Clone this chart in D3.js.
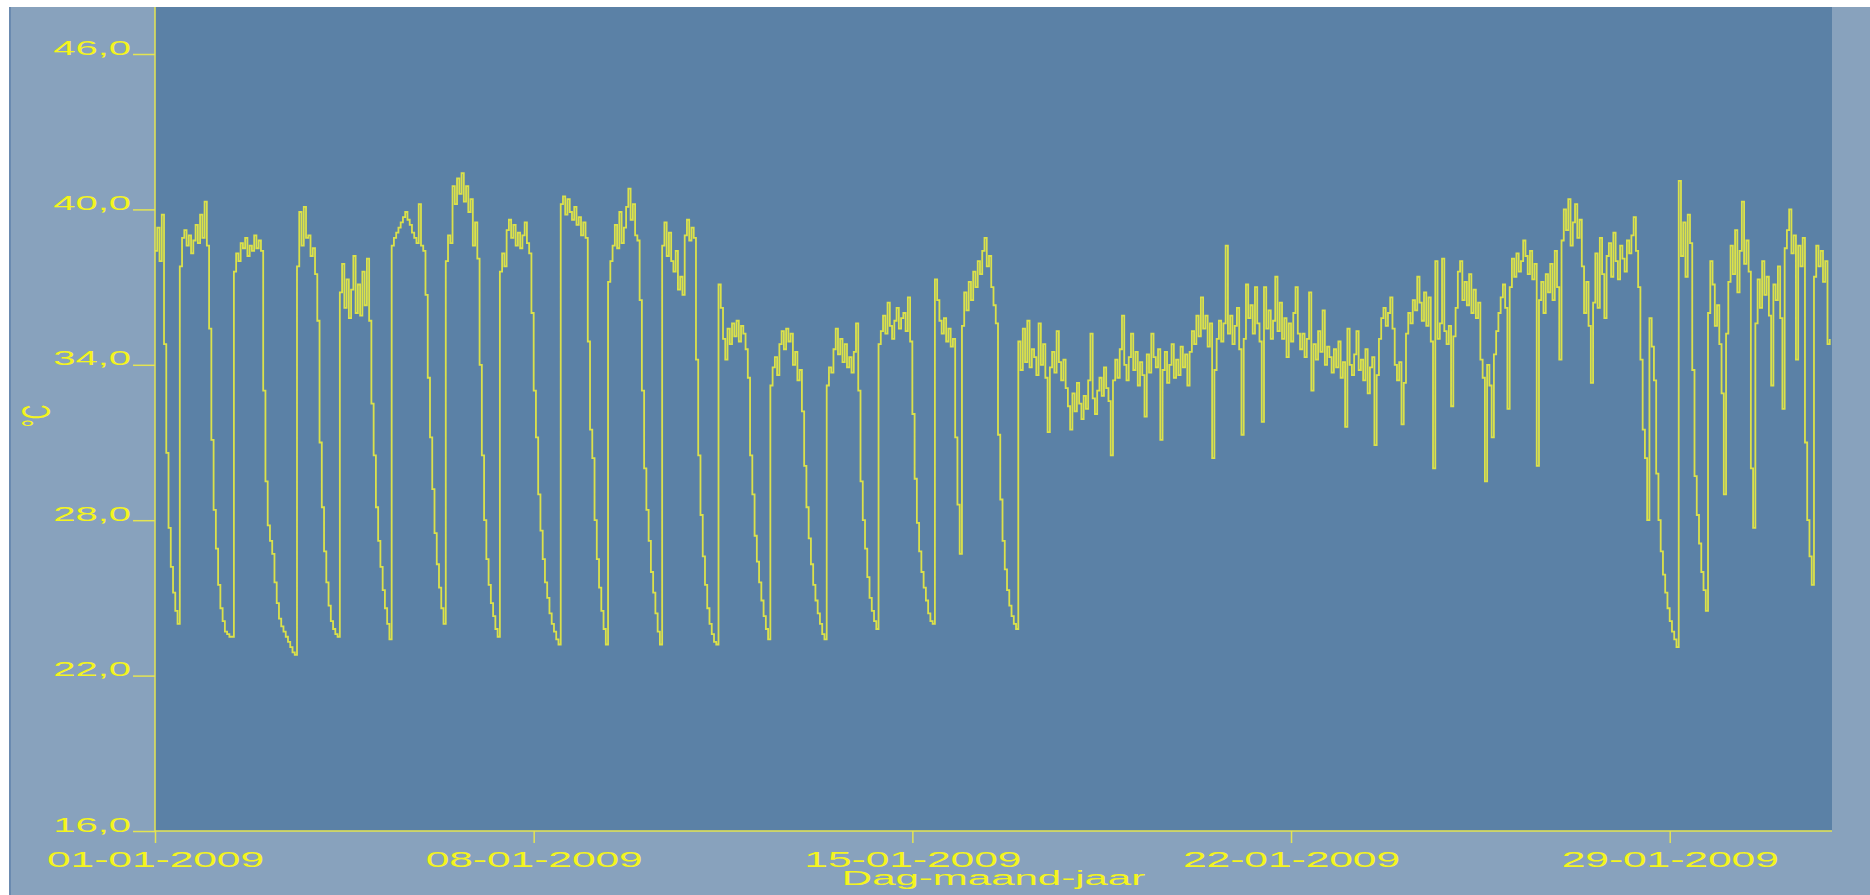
<!DOCTYPE html>
<html lang="nl">
<head>
<meta charset="UTF-8">
<title>Temperatuur januari 2009</title>
<script src="https://d3js.org/d3.v7.min.js"></script>
<style>
    body { margin: 0; padding: 0; background: #fff; overflow: hidden; }
    svg { display: block; }
    text { font-family: "Liberation Sans", Arial, sans-serif; }
</style>
</head>
<body>
<svg id="chart" width="1870" height="895"></svg>
<script>
// hourly readings, first value = 01-01-2009 00:00
const startDate = new Date(2009, 0, 1, 0, 0);
const endDate = new Date(2009, 1, 1, 0, 0);

const jan01_07 = [
    38.4, 39.3, 38.0, 39.8, 34.8, 30.6, 27.7, 26.2, 25.2, 24.5, 24.0,
    37.8, 38.9, 39.2, 38.6, 39.0, 38.3, 38.8, 39.4, 38.7, 39.8, 38.9, 40.3, 38.6,
    35.4, 31.1, 28.4, 26.9, 25.5, 24.6, 24.1, 23.7, 23.6, 23.5, 23.5,
    37.6, 38.3, 38.0, 38.7, 38.5, 38.9, 38.2, 38.6, 38.4, 39.0, 38.5, 38.8, 38.4,
    33.0, 29.5, 27.8, 27.2, 26.7, 25.6, 24.8, 24.2, 23.9, 23.7, 23.5, 23.3, 23.1, 22.9, 22.8,
    37.8, 39.9, 38.6, 40.1, 38.9, 39.0, 38.2, 38.5, 37.5,
    35.7, 31.0, 28.5, 26.8, 25.6, 24.7, 24.1, 23.8, 23.6, 23.5,
    36.8, 37.9, 36.2, 37.3, 35.8, 36.9, 38.2, 36.0, 37.1, 35.9, 37.6, 36.3, 38.1, 35.7,
    32.5, 30.5, 28.5, 27.2, 26.2, 25.3, 24.6, 24.0, 23.4,
    38.6, 38.9, 39.1, 39.3, 39.5, 39.7, 39.9, 39.6, 39.4, 39.1, 38.9, 38.7, 40.2, 38.6, 38.4,
    36.7, 33.5, 31.2, 29.2, 27.5, 26.3, 25.4, 24.6, 24.0,
    38.0, 39.0, 38.7, 40.9, 40.2, 41.2, 40.6, 41.4, 40.3, 40.9, 39.9, 40.4, 38.6, 39.5, 38.1,
    34.0, 30.5, 28.0, 26.5, 25.5, 24.8, 24.3, 23.8, 23.5,
    37.6, 38.3, 37.8, 39.2, 39.6, 38.9, 39.4, 38.6, 39.1, 38.5, 39.0, 39.5, 38.7, 38.3,
    36.0
];
const jan08_14 = [
    33.0, 31.2, 29.0, 27.6, 26.5, 25.6, 25.0, 24.4, 24.0, 23.7, 23.4, 23.2,
    40.2, 40.5, 39.8, 40.4, 39.9, 39.6, 40.1, 39.4, 39.7, 39.0, 39.5, 38.9,
    34.9, 31.5, 30.4, 28.0, 26.5, 25.4, 24.5, 23.8, 23.2,
    37.2, 38.0, 38.6, 39.4, 38.5, 39.9, 38.7, 39.3, 40.1, 40.8, 39.6, 40.2, 39.0, 38.8,
    36.5, 33.0, 30.0, 28.4, 27.2, 26.0, 25.2, 24.4, 23.7, 23.2,
    38.6, 39.5, 38.2, 39.1, 38.0, 37.6, 38.4, 36.9, 37.4, 36.7, 39.0, 39.6, 38.8, 39.3, 38.9,
    34.2, 30.5, 28.2, 26.6, 25.5, 24.6, 24.0, 23.6, 23.3, 23.2,
    37.1, 36.2, 35.0, 34.2, 35.4, 34.8, 35.6, 35.1, 35.7, 34.9, 35.5, 35.2, 34.6,
    33.5, 30.5, 29.0, 27.4, 26.4, 25.6, 24.9, 24.3, 23.8, 23.4,
    33.2, 33.9, 34.3, 33.6, 34.8, 35.3, 34.6, 35.4, 34.9, 35.2, 34.0, 34.5, 33.4, 33.8,
    32.2, 30.1, 28.5, 27.3, 26.3, 25.5, 24.9, 24.4, 24.0, 23.6, 23.4,
    33.2, 33.9, 33.7, 34.6, 35.4, 34.4, 35.0, 34.1, 34.8, 33.9, 34.3, 33.7, 34.5, 35.6,
    33.0, 29.5, 28.0, 26.9, 25.8, 25.0, 24.5, 24.1, 23.8,
    34.8, 35.3, 35.9, 35.2, 36.4, 35.5, 35.0, 35.7, 36.2, 35.4, 35.8, 36.0, 35.3, 36.6,
    34.9
];
const jan15_21 = [
    32.1, 29.6, 27.9, 26.8, 26.0, 25.4, 24.9, 24.4, 24.1, 24.0,
    37.3, 36.5, 35.7, 35.2, 35.8, 34.9, 35.4, 34.7, 35.0,
    31.2, 28.6, 26.7,
    35.5, 36.8, 36.1, 37.2, 36.5, 37.6, 37.0, 38.0, 37.5, 38.4, 38.9, 37.8, 38.2, 37.0, 36.3, 35.6,
    31.3, 28.8, 27.2, 26.1, 25.3, 24.7, 24.3, 24.0, 23.8,
    34.9, 33.8, 35.4, 34.1, 35.7, 33.9, 34.6,
    34.3, 33.6, 35.6, 34.0, 34.8, 33.5, 31.4, 33.9, 34.5, 33.7, 35.3, 34.1, 33.4, 34.2,
    33.1, 32.4, 31.5, 32.9, 32.2, 33.3, 32.5, 31.9, 32.8, 32.3, 33.4, 35.2, 32.7, 32.1, 33.0,
    33.5, 32.8, 33.9, 33.1, 32.6, 30.5, 33.4,
    34.2, 33.5, 34.6, 35.9, 34.0, 33.4, 34.3, 35.2, 33.8, 34.5, 33.2, 34.1, 33.6, 32.0, 34.4, 33.7,
    35.2, 34.3, 33.9, 34.6, 31.1, 33.8, 34.5, 33.3, 34.0, 34.8, 33.5, 34.2, 33.6, 34.7, 33.9, 34.4, 33.2,
    34.5, 35.3, 34.8, 35.9, 35.1, 36.6, 35.4, 35.9, 34.7, 35.6, 30.4, 33.8, 35.0, 35.7, 34.9,
    35.6, 38.6, 35.2,
    35.9, 34.8, 35.5, 36.2, 34.6, 31.3, 35.0, 37.1, 35.8, 36.3, 35.2, 37.0, 35.6, 34.9, 31.8, 37.0,
    35.4, 36.1, 35.0, 35.7, 37.4, 35.3,
    36.4, 35.0, 35.8, 34.3, 35.6
];
const jan22_28 = [
    34.9, 36.0, 37.0, 35.2,
    34.6, 35.2, 34.3, 35.0, 36.8, 33.0, 34.8, 34.2, 35.3, 34.5, 36.1, 34.0, 34.7,
    34.3, 33.7, 34.6, 33.9, 34.9, 33.5, 34.1, 31.6, 35.4, 34.0, 33.6, 34.4, 35.3, 33.8, 34.2, 33.4,
    34.6, 32.9, 33.9, 34.3, 30.9, 33.6,
    35.0, 35.8, 36.2, 35.5, 36.0, 36.6, 35.4,
    34.0, 33.4, 34.1, 31.7, 33.3,
    35.2, 36.0, 35.6, 36.5, 36.1, 37.4, 36.4, 35.7, 36.8,
    35.5, 36.6, 34.9, 30.0, 38.0,
    35.0, 35.6, 38.1, 35.3, 34.8, 35.5, 32.4, 35.1,
    36.2, 37.6, 38.0, 36.5, 37.2, 36.3, 37.5, 36.0, 36.9, 35.8, 36.4,
    34.2, 33.5, 29.5, 34.0, 33.2, 31.2, 34.4,
    35.3, 36.0, 36.6, 37.1, 36.2, 32.3,
    37.0, 38.1, 37.4, 38.3, 37.6, 38.0, 38.8, 38.2, 37.5, 38.4, 37.3, 37.9,
    30.1,
    36.5, 37.2, 36.0, 37.5, 36.8,
    37.9, 36.5, 38.4, 37.0, 34.2, 38.8, 40.0, 39.2, 40.4, 38.6, 39.5, 40.2, 38.9, 39.6, 37.8,
    36.0, 37.2, 35.5, 33.3, 36.4, 38.3, 36.2, 38.9, 37.5, 35.8, 38.2, 38.7, 37.4, 39.1, 38.0,
    37.3, 38.6, 38.1, 37.6, 38.8, 38.3, 39.0, 39.7, 38.4, 37.0, 34.2, 31.5, 30.4, 28.0, 35.8,
    34.7, 33.4, 29.8, 28.0, 26.8, 25.9, 25.2, 24.6
];
const jan29_31 = [
    24.1, 23.7, 23.4, 23.1,
    41.1, 38.2, 39.5, 37.4, 39.8, 38.7,
    33.8, 29.7, 28.2, 27.1, 26.0, 25.3, 24.5,
    36.0, 38.0, 37.1, 35.5, 36.3, 34.8, 32.9, 29.0, 35.2,
    37.2, 38.6, 37.5, 39.2, 36.8, 38.4, 40.3, 37.9, 38.8, 37.6,
    30.0, 27.7,
    35.6, 37.3, 36.2, 38.0, 36.7, 37.4, 35.9, 33.2, 37.1, 36.5, 37.8, 35.8,
    32.3, 38.5, 39.2, 40.0, 38.3, 39.0, 34.2, 38.6, 37.8, 38.9,
    31.0, 28.0, 26.6, 25.5,
    37.4, 38.6, 37.8, 38.4, 37.2, 38.0, 34.8, 35.0
];

const yTicks = [16, 22, 28, 34, 40, 46];
const xTickLabels = ["01-01-2009", "08-01-2009", "15-01-2009", "22-01-2009", "29-01-2009"];
const yTitle = "°C";
const xTitle = "Dag-maand-jaar";

const temps = [].concat(jan01_07, jan08_14, jan15_21, jan22_28, jan29_31);

const W = 1870, H = 895;
const plotLeft = 155, plotRight = 1832, plotTop = 7, plotBottom = 831;
const yellow = "#f4f41e";
const axisColor = "#e4e452";

const svg = d3.select("#chart");

// panels
svg.append("rect").attr("x", 9).attr("y", 7).attr("width", W - 9).attr("height", H - 7).attr("fill", "#88a2bd");
svg.append("rect").attr("x", 9).attr("y", 7).attr("width", 2).attr("height", H - 7).attr("fill", "#6a8ab0");
svg.append("rect").attr("x", plotLeft).attr("y", plotTop)
    .attr("width", plotRight - plotLeft).attr("height", plotBottom - plotTop).attr("fill", "#5b81a6");

const x = d3.scaleTime().domain([startDate, endDate]).range([plotLeft, plotRight]);
const y = d3.scaleLinear().domain([16, 46]).range([plotBottom, 54]);

svg.append("clipPath").attr("id", "plot")
    .append("rect").attr("x", plotLeft).attr("y", plotTop)
    .attr("width", plotRight - plotLeft).attr("height", plotBottom - plotTop);

const line = d3.line()
    .x((d, i) => x(d3.timeHour.offset(startDate, i)))
    .y(d => y(d))
    .curve(d3.curveStepAfter);

svg.append("path")
    .datum(temps)
    .attr("clip-path", "url(#plot)")
    .attr("fill", "none")
    .attr("stroke", "#f2f23a")
    .attr("stroke-opacity", 0.85)
    .attr("stroke-width", 1.8)
    .attr("d", line);

// y axis
const yAxis = d3.axisLeft(y)
    .tickValues(yTicks)
    .tickSize(22)
    .tickFormat(d => d.toFixed(1).replace(".", ","));

const gy = svg.append("g").attr("transform", `translate(${plotLeft},0)`).call(yAxis);
gy.select(".domain").remove();
gy.selectAll(".tick line").attr("stroke", axisColor).attr("stroke-width", 1.5);
gy.selectAll(".tick text")
    .attr("x", 0).attr("dy", 0)
    .attr("transform", "translate(-24,0) scale(2,1)")
    .attr("font-size", 20)
    .attr("text-anchor", "end")
    .attr("fill", yellow);

// x axis
const parseDay = d3.timeParse("%d-%m-%Y");
const xAxis = d3.axisBottom(x)
    .tickValues(xTickLabels.map(parseDay))
    .tickSize(12)
    .tickFormat(d3.timeFormat("%d-%m-%Y"));

const gx = svg.append("g").attr("transform", `translate(0,${plotBottom})`).call(xAxis);
gx.select(".domain").remove();
gx.selectAll(".tick line").attr("stroke", axisColor).attr("stroke-width", 1.5);
gx.selectAll(".tick text")
    .attr("y", 0).attr("dy", 0)
    .attr("transform", "translate(0,36) scale(1.93,1)")
    .attr("font-size", 22)
    .attr("text-anchor", "middle")
    .attr("fill", yellow);

gy.attr("font-family", null);
gx.attr("font-family", null);

// axis lines
svg.append("line").attr("x1", plotLeft).attr("x2", plotLeft).attr("y1", plotTop).attr("y2", plotBottom)
    .attr("stroke", axisColor).attr("stroke-width", 1.5);
svg.append("line").attr("x1", plotLeft).attr("x2", plotRight).attr("y1", plotBottom).attr("y2", plotBottom)
    .attr("stroke", axisColor).attr("stroke-width", 1.5);

// titles
svg.append("text")
    .attr("transform", `translate(${(plotLeft + plotRight) / 2},885) scale(2.1,1)`)
    .attr("text-anchor", "middle")
    .attr("font-size", 20)
    .attr("fill", yellow)
    .text(xTitle);

svg.append("text")
    .attr("transform", "translate(50,416) scale(2,1) rotate(-90)")
    .attr("text-anchor", "middle")
    .attr("font-size", 20)
    .attr("fill", yellow)
    .text(yTitle);
</script>
</body>
</html>
